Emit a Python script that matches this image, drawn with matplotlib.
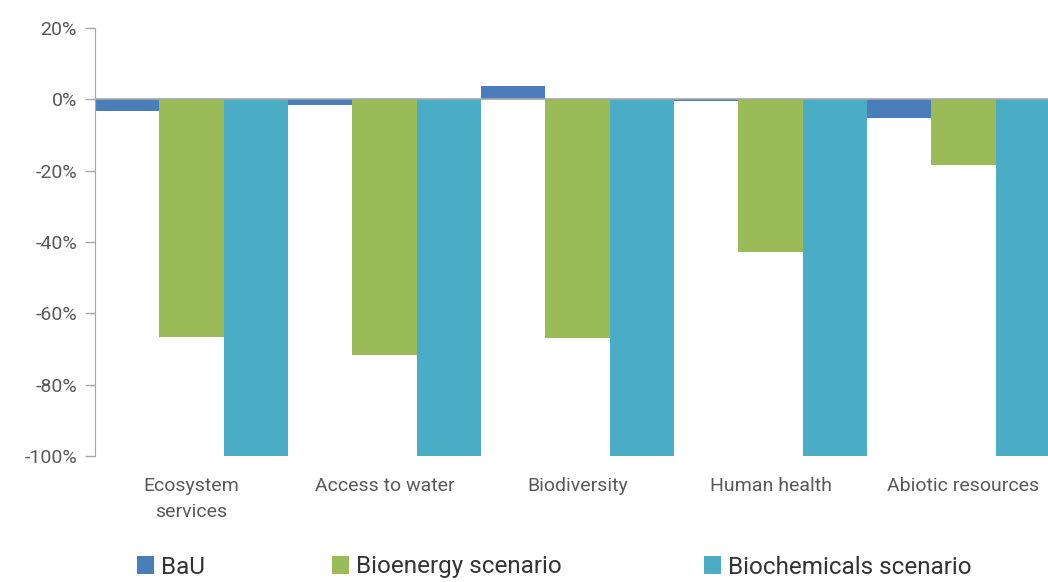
import matplotlib
matplotlib.use("Agg")
import matplotlib.pyplot as plt
import numpy as np
from matplotlib.ticker import FuncFormatter

plt.rcParams['font.family'] = ['Roboto', 'DejaVu Sans']

categories = ["Ecosystem\nservices", "Access to water", "Biodiversity",
              "Human health", "Abiotic resources"]
bau = [-3.4, -1.5, 3.6, -0.4, -5.3]
bioenergy = [-66.5, -71.8, -67.0, -42.9, -18.5]
biochemicals = [-100, -100, -100, -100, -100]
series_names = ["BaU", "Bioenergy scenario", "Biochemicals scenario"]
colors = ["#4a7ebb", "#9bbb59", "#4bacc6"]

text_col = "#595959"
fig = plt.figure(figsize=(10.48, 5.82), dpi=100)
ax = fig.add_axes([95 / 1048, 1 - 456 / 582, 965 / 1048, 428 / 582])

x = np.arange(len(categories))
w = 1 / 3
bars = []
for k, (vals, col) in enumerate(zip([bau, bioenergy, biochemicals], colors)):
    b = ax.bar(x + (k - 1) * w, vals, width=w, color=col, zorder=2)
    bars.append(b)

ax.axhline(0, color="#a6a6a6", lw=1.2, zorder=3)
ax.set_xlim(-0.5, len(categories) - 0.5)
ax.set_ylim(-100, 20)
ax.set_yticks(np.arange(-100, 21, 20))
ax.yaxis.set_major_formatter(FuncFormatter(lambda v, p: f"{v:.0f}%"))
ax.set_xticks(x)
ax.set_xticklabels(categories, fontsize=14, color=text_col, linespacing=1.6)
ax.tick_params(axis="x", length=0, pad=15)
ax.tick_params(axis="y", colors="#a6a6a6", labelcolor=text_col, labelsize=14,
               length=7, width=1, pad=6)

for s in ["top", "right", "bottom"]:
    ax.spines[s].set_visible(False)
ax.spines["left"].set_color("#a6a6a6")

# legend entries laid out along the bottom
positions = [125 / 1048, 320 / 1048, 692 / 1048]
for b, name, px in zip(bars, series_names, positions):
    fig.legend([b], [name], loc="center left", bbox_to_anchor=(px, 1 - 567 / 582),
               frameon=False, fontsize=17.5, handlelength=0.7, handleheight=0.7,
               handletextpad=0.3, borderpad=0, labelcolor="#333333")

fig.savefig("out.png", dpi=100, facecolor="white")
